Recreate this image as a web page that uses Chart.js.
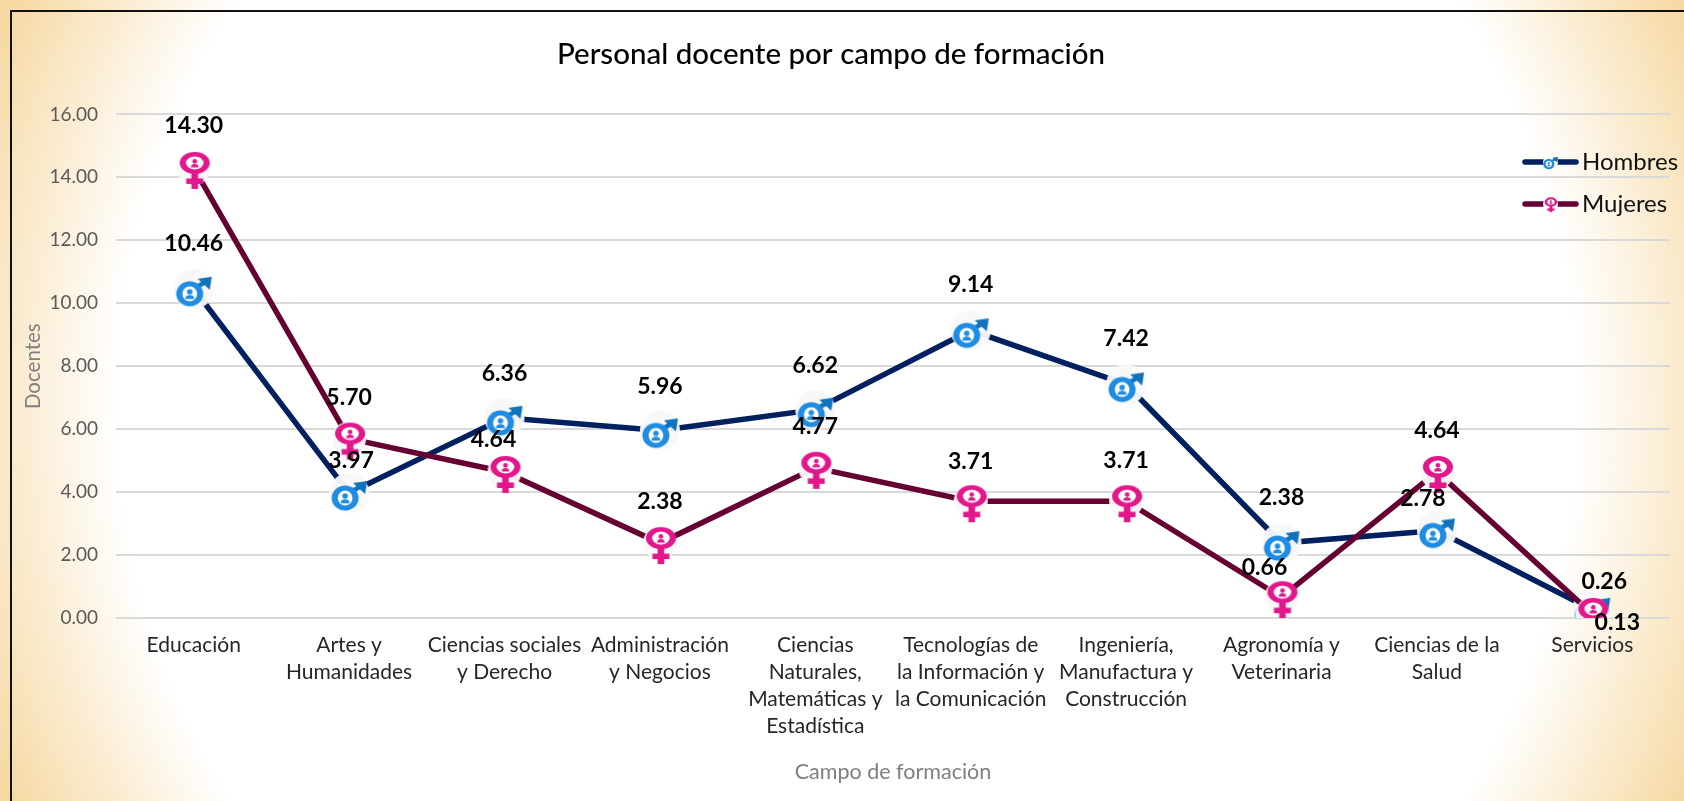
<!DOCTYPE html>
<html lang="es">
<head>
<meta charset="utf-8">
<title>Personal docente por campo de formación</title>
<script src="https://cdn.jsdelivr.net/npm/chart.js@4"></script>
<style>
html,body{margin:0;padding:0;width:1684px;height:801px;overflow:hidden;background:#fff}
#frame{position:absolute;left:0;top:0;width:1684px;height:801px;
 background:radial-gradient(circle 925px at 847px 405px,#fff 0,#fff 79%,#F6D9A3 100%);}
#edge{position:absolute;left:10px;top:10px;width:1674px;height:791px;border-left:2px solid #111;border-top:2px solid #111;box-sizing:border-box}
canvas{position:absolute;left:0;top:0}
</style>
</head>
<body>
<div id="frame"></div><div id="edge"></div>
<canvas id="c" width="1684" height="801"></canvas>
<script>
const chartTitle = 'Personal docente por campo de formación';
const xTitle = 'Campo de formación';
const yTitle = 'Docentes';
const categories = [
  ['Educación'],
  ['Artes y','Humanidades'],
  ['Ciencias sociales','y Derecho'],
  ['Administración','y Negocios'],
  ['Ciencias','Naturales,','Matemáticas y','Estadística'],
  ['Tecnologías de','la Información y','la Comunicación'],
  ['Ingeniería,','Manufactura y','Construcción'],
  ['Agronomía y','Veterinaria'],
  ['Ciencias de la','Salud'],
  ['Servicios']
];
const hombres = [10.46,3.97,6.36,5.96,6.62,9.14,7.42,2.38,2.78,0.26];
const mujeres = [14.30,5.70,4.64,2.38,4.77,3.71,3.71,0.66,4.64,0.13];

const FONT = 'Lato, "Open Sans", sans-serif';
const hombresShift = [[0,-45],[2,-32],[0,-44],[0,-44],[0,-44],[0,-46],[0,-46],[0,-46],[-14,-32],[12,-28]];
const mujeresShift = [[0,-42],[0,-41],[-11,-32],[0,-42],[0,-41],[0,-40],[0,-41],[-17,-30],[0,-41],[25,9]];

function makeCanvas(w,h){const c=document.createElement('canvas');c.width=w;c.height=h;return c;}

function person(g,x,y,s,col){
  g.fillStyle=col;
  g.beginPath();g.arc(x,y-1.6*s,2.2*s,0,Math.PI*2);g.fill();
  g.beginPath();g.moveTo(x-3.6*s,y+4.2*s);
  g.quadraticCurveTo(x-3.6*s,y+1*s,x,y+1*s);
  g.quadraticCurveTo(x+3.6*s,y+1*s,x+3.6*s,y+4.2*s);g.closePath();g.fill();
}
function drawMale(g,cx,cy,s){
  const blue='#1E8CE3', arrow='#0F72BA';
  const rx=cx-4*s, ry=cy+5*s;
  g.strokeStyle=arrow;g.lineWidth=4.5*s;
  g.beginPath();g.moveTo(rx+7*s,ry-7*s);g.lineTo(cx+14*s,cy-8*s);g.stroke();
  g.fillStyle=arrow;
  g.beginPath();g.moveTo(cx+18*s,cy-12*s);g.lineTo(cx+16*s,cy+1*s);g.lineTo(cx+4*s,cy-10*s);g.closePath();g.fill();
  g.fillStyle=blue;
  g.beginPath();g.ellipse(rx,ry,13.5*s,12.5*s,0,0,Math.PI*2);g.fill();
  g.fillStyle='#fff';
  g.beginPath();g.arc(rx,ry,7.4*s,0,Math.PI*2);g.fill();
  person(g,rx,ry,1.25*s,blue);
}
function drawFemale(g,cx,cy,s){
  const pink='#E2178C';
  const ey=cy-5*s, ex=cx+1*s;
  g.fillStyle=pink;
  g.fillRect(ex-3.3*s,ey+7*s,6.6*s,19*s);
  g.fillRect(ex-8.5*s,cy+10.5*s,17*s,5.5*s);
  g.beginPath();g.ellipse(ex,ey,15*s,11*s,0,0,Math.PI*2);g.fill();
  g.fillStyle='#fff';
  g.beginPath();g.ellipse(ex,ey,8.8*s,6.4*s,0,0,Math.PI*2);g.fill();
  person(g,ex,ey,1.05*s,pink);
}
function icon(kind){
  const c=makeCanvas(46,46),g=c.getContext('2d');
  g.fillStyle='rgba(248,248,248,0.96)';
  g.beginPath();g.arc(23,23,kind==='m'?20:17,0,Math.PI*2);g.fill();
  if(kind==='m')drawMale(g,23,23,1);else drawFemale(g,23,23,1);
  return c;
}
function legendIcon(kind,col){
  const c=makeCanvas(57,16),g=c.getContext('2d');
  g.strokeStyle=col;g.lineWidth=5.5;g.lineCap='round';
  g.beginPath();g.moveTo(3,8);g.lineTo(54,8);g.stroke();
  g.fillStyle='#fff';g.beginPath();g.arc(28.5,8,7.5,0,Math.PI*2);g.fill();
  if(kind==='m')drawMale(g,28.5,8,0.42);else drawFemale(g,28.5,8,0.42);
  return c;
}

const valueLabels = {
  id:'valueLabels',
  afterDatasetsDraw(chart){
    const g=chart.ctx;
    g.save();
    g.font='bold 23px '+FONT;
    g.fillStyle='#000';
    g.textAlign='center';g.textBaseline='middle';
    chart.data.datasets.forEach((ds,i)=>{
      const meta=chart.getDatasetMeta(i);
      meta.data.forEach((pt,j)=>{
        const sh=ds.labelShift[j];
        g.fillText(ds.data[j].toFixed(2),pt.x+sh[0],pt.y+sh[1]);
      });
    });
    g.restore();
  }
};
const placeBlocks = {
  id:'placeBlocks',
  afterLayout(chart){
    const l=chart.legend;
    l.left=1513;l.right=1684;l.top=132;l.bottom=801;
    const t=chart.titleBlock;
    t.left=0;t.right=1662;
  }
};

new Chart(document.getElementById('c'),{
  type:'line',
  data:{
    labels:categories,
    datasets:[
      {label:'Hombres',data:hombres,borderColor:'#002060',backgroundColor:'#002060',borderWidth:5.5,
       tension:0,pointStyle:icon('m'),pointRadius:12,order:1,labelShift:hombresShift,legendStyle:legendIcon('m','#002060')},
      {label:'Mujeres',data:mujeres,borderColor:'#660033',backgroundColor:'#660033',borderWidth:5.5,
       tension:0,pointStyle:icon('f'),pointRadius:12,order:0,labelShift:mujeresShift,legendStyle:legendIcon('f','#660033')}
    ]
  },
  plugins:[valueLabels,placeBlocks],
  options:{
    responsive:false,animation:false,
    layout:{autoPadding:false,padding:{left:0,right:14,top:0,bottom:0}},
    plugins:{
      tooltip:{enabled:false},
      title:{display:true,text:chartTitle,color:'#000',font:{family:FONT,size:29.5,weight:'500'},padding:{top:37,bottom:42}},
      legend:{
        position:'chartArea',align:'start',
        labels:{
          color:'#111',font:{family:FONT,size:24},
          usePointStyle:true,pointStyleWidth:39,padding:18,
          generateLabels(chart){
            return chart.data.datasets.map((d,i)=>({text:d.label,pointStyle:d.legendStyle,fontColor:'#111',datasetIndex:i,lineWidth:0,strokeStyle:'transparent',fillStyle:'transparent'}));
          }
        }
      }
    },
    scales:{
      x:{
        offset:true,
        grid:{display:false},border:{display:false},
        ticks:{color:'#262626',font:{family:FONT,size:21,lineHeight:1.285},padding:6,maxRotation:0,minRotation:0,autoSkip:false},
        title:{display:true,text:xTitle,color:'#7F7F7F',font:{family:FONT,size:21.5},padding:{top:0,bottom:16}},
        afterFit(s){s.height=183;}
      },
      y:{
        min:0,max:16,
        grid:{color:'#D9D9D9',lineWidth:2,drawTicks:false},border:{display:false},
        ticks:{stepSize:2,color:'#595959',font:{family:FONT,size:19},padding:18,callback:v=>Number(v).toFixed(2)},
        title:{display:true,text:yTitle,color:'#7F7F7F',font:{family:FONT,size:20.5},padding:{top:21,bottom:0}},
        afterFit(s){s.width=116;}
      }
    }
  }
});
</script>
</body>
</html>
